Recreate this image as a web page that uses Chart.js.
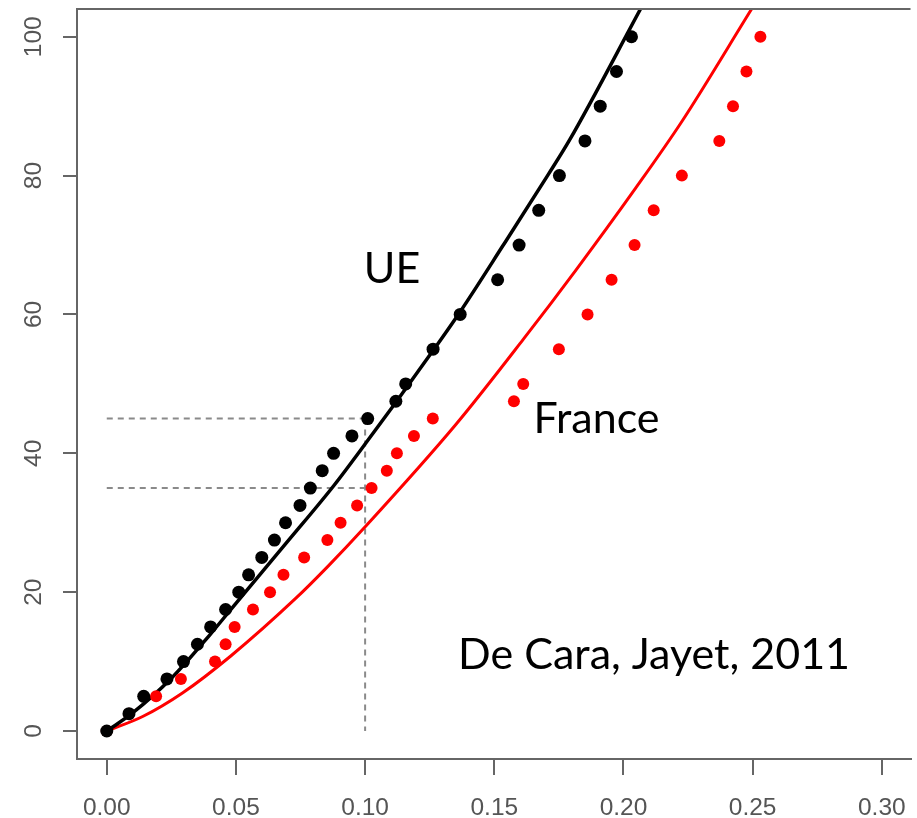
<!DOCTYPE html>
<html>
<head>
<meta charset="utf-8">
<script src="https://cdn.jsdelivr.net/npm/chart.js@4/dist/chart.umd.min.js"></script>
<style>
  html, body { margin: 0; padding: 0; background: #ffffff; }
  #wrap { width: 917px; height: 818px; }
</style>
</head>
<body>
<div id="wrap"><canvas id="c" width="917" height="818"></canvas></div>
<script>
// ---------- data ----------
const xTicks = [0, 0.05, 0.10, 0.15, 0.20, 0.25, 0.30];
const xTickLabels = ['0.00', '0.05', '0.10', '0.15', '0.20', '0.25', '0.30'];
const yTicks = [0, 20, 40, 60, 80, 100];
const yTickLabels = ['0', '20', '40', '60', '80', '100'];

// observed points: y levels shared by both series
const levels = [0, 2.5, 5, 7.5, 10, 12.5, 15, 17.5, 20, 22.5, 25, 27.5, 30, 32.5, 35, 37.5, 40, 42.5, 45,
                47.5, 50, 55, 60, 65, 70, 75, 80, 85, 90, 95, 100];
const ueObs = [0, 0.0086, 0.0143, 0.0233, 0.0297, 0.0351, 0.0402, 0.0460, 0.0511, 0.0549, 0.0600, 0.0649,
               0.0692, 0.0748, 0.0788, 0.0834, 0.0878, 0.0949, 0.1010, 0.1119, 0.1157, 0.1263, 0.1368,
               0.1513, 0.1596, 0.1672, 0.1752, 0.1851, 0.1910, 0.1973, 0.2031];
const franceObs = [0, 0.0086, 0.0191, 0.0287, 0.0419, 0.0460, 0.0495, 0.0566, 0.0632, 0.0684, 0.0764, 0.0854,
                   0.0905, 0.0969, 0.1025, 0.1084, 0.1123, 0.1189, 0.1262, 0.1576, 0.1612, 0.1750, 0.1861,
                   0.1954, 0.2043, 0.2117, 0.2226, 0.2371, 0.2424, 0.2476, 0.2530];

// fitted curves
const ueCurveX = [0, 0.0100, 0.0250, 0.0400, 0.0500, 0.0700, 0.0880, 0.1035, 0.1120, 0.1263, 0.1368, 0.1535, 0.1708, 0.1791, 0.2066];
const ueCurveY = [0, 2.6, 7.6, 13.9, 18.4, 27.3, 35.4, 43.1, 47.4, 54.8, 60.4, 70.0, 80.1, 85.1, 104.0];
const frCurveX = [0, 0.0139, 0.0293, 0.0480, 0.0730, 0.0856, 0.1002, 0.1352, 0.1612, 0.1816, 0.2047, 0.2226, 0.2496];
const frCurveY = [0, 2.09, 5.48, 10.81, 19.06, 23.72, 29.49, 44.19, 56.41, 66.4, 78.2, 87.8, 104.0];

// dashed reading guides
const guideUeX = [0, 0.10];
const guideUeY = [45, 45];
const guideFrX = [0, 0.10];
const guideFrY = [35, 35];
const guideVertX = [0.10, 0.10];
const guideVertY = [45, 0];

// text labels placed in data units
const labelTexts = ['UE', 'France', 'De Cara, Jayet, 2011'];
const labelX = [0.0995, 0.1652, 0.1360];
const labelY = [64.5, 42.9, 9.0];

// ---------- build ----------
const pts = (xs, ys) => xs.map((x, i) => ({ x: x, y: ys[i] }));

const AXIS_GREY = '#555555';
const TICK_FONT = '24.5px "Liberation Sans", Arial, sans-serif';
const NOTE_FONT = '43px Lato, "Open Sans", sans-serif';

const rPlot = {
  id: 'rPlot',
  afterDraw(chart) {
    const ctx = chart.ctx;
    const a = chart.chartArea;
    const xs = chart.scales.x, ys = chart.scales.y;
    ctx.save();
    // top border of the box
    ctx.strokeStyle = '#666666';
    ctx.lineWidth = 2;
    ctx.beginPath();
    ctx.moveTo(a.left - 1, a.top);
    ctx.lineTo(a.right, a.top);
    ctx.stroke();

    // x tick labels
    ctx.fillStyle = AXIS_GREY;
    ctx.font = TICK_FONT;
    ctx.textAlign = 'center';
    ctx.textBaseline = 'alphabetic';
    xTicks.forEach((v, i) => {
      ctx.fillText(xTickLabels[i], xs.getPixelForValue(v), a.bottom + 56);
    });
    // y tick labels, rotated (R style)
    yTicks.forEach((v, i) => {
      ctx.save();
      ctx.translate(a.left - 36.5, ys.getPixelForValue(v));
      ctx.rotate(-Math.PI / 2);
      ctx.fillText(yTickLabels[i], 0, 0);
      ctx.restore();
    });

    // annotations
    ctx.fillStyle = '#000000';
    ctx.font = NOTE_FONT;
    ctx.textAlign = 'left';
    labelTexts.forEach((t, i) => {
      ctx.fillText(t, xs.getPixelForValue(labelX[i]), ys.getPixelForValue(labelY[i]));
    });
    ctx.restore();
  }
};

new Chart(document.getElementById('c'), {
  type: 'scatter',
  data: {
    datasets: [
      { label: 'UE', data: pts(ueObs, levels), order: 0,
        backgroundColor: '#000000', borderWidth: 0, pointRadius: 6.5, showLine: false },
      { label: 'France', data: pts(franceObs, levels), order: 1,
        backgroundColor: '#ff0000', borderWidth: 0, pointRadius: 6, showLine: false },
      { label: 'UE fit', data: pts(ueCurveX, ueCurveY), order: 2, showLine: true,
        borderColor: '#000000', borderWidth: 3.5, pointRadius: 0, cubicInterpolationMode: 'monotone', clip: 0 },
      { label: 'France fit', data: pts(frCurveX, frCurveY), order: 3, showLine: true,
        borderColor: '#ff0000', borderWidth: 3, pointRadius: 0, cubicInterpolationMode: 'monotone', clip: 0 },
      { label: 'g1', data: pts(guideUeX, guideUeY), order: 4, showLine: true,
        borderColor: '#8a8a8a', borderWidth: 2, borderDash: [6, 5], pointRadius: 0 },
      { label: 'g2', data: pts(guideFrX, guideFrY), order: 4, showLine: true,
        borderColor: '#8a8a8a', borderWidth: 2, borderDash: [6, 5], pointRadius: 0 },
      { label: 'g3', data: pts(guideVertX, guideVertY), order: 4, showLine: true,
        borderColor: '#8a8a8a', borderWidth: 2, borderDash: [6, 5], pointRadius: 0 }
    ]
  },
  options: {
    responsive: false,
    animation: false,
    events: [],
    layout: { padding: { left: 63, top: 9, right: 0, bottom: 43 } },
    plugins: { legend: { display: false }, tooltip: { enabled: false } },
    scales: {
      x: {
        type: 'linear', min: -0.01152, max: 0.3111,
        afterBuildTicks: (s) => { s.ticks = xTicks.map(v => ({ value: v })); },
        ticks: { display: false },
        grid: { drawOnChartArea: false, drawTicks: true, tickLength: 16, color: '#666666', lineWidth: 2 },
        border: { display: true, color: '#666666', width: 2 }
      },
      y: {
        type: 'linear', min: -4.03, max: 104.0,
        afterBuildTicks: (s) => { s.ticks = yTicks.map(v => ({ value: v })); },
        ticks: { display: false },
        grid: { drawOnChartArea: false, drawTicks: true, tickLength: 14, color: '#666666', lineWidth: 2 },
        border: { display: true, color: '#666666', width: 2 }
      }
    }
  },
  plugins: [rPlot]
});
</script>
</body>
</html>
